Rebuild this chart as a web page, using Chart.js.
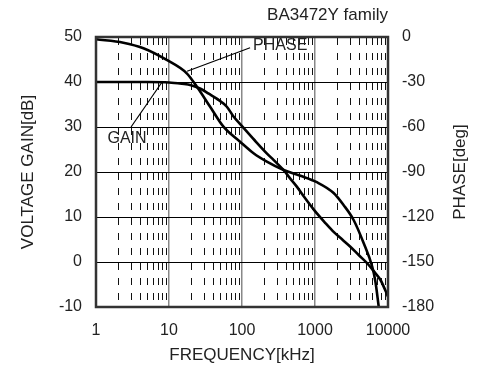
<!DOCTYPE html>
<html>
<head>
<meta charset="utf-8">
<script src="https://cdn.jsdelivr.net/npm/chart.js@4.4.0/dist/chart.umd.min.js"></script>
<style>
  html, body { margin: 0; padding: 0; background: #fff; }
  #wrap { width: 483px; height: 376px; }
</style>
</head>
<body>
<div id="wrap"><canvas id="bode" width="483" height="376"></canvas></div>
<script>
// values
const gainFreq = [1, 2, 5, 10, 15, 20, 27, 35, 45, 62, 76, 100, 150, 220, 270, 372, 450, 567, 700, 1000, 1400, 1800, 2400, 3050, 4000, 5200, 6500, 7900, 10000]
const gainDb = [40, 40, 40, 39.9, 39.6, 39.3, 38.5, 37.4, 36.3, 34.5, 32.4, 30.2, 27.0, 24.1, 22.7, 20.4, 18.7, 16.7, 14.6, 11.3, 8.6, 6.7, 4.9, 3.4, 1.5, -0.3, -2.2, -4.0, -7.7]

const phaseFreq = [1, 2.37, 4.46, 9.3, 17.5, 24, 36.6, 55.7, 94, 144, 219, 372, 630, 1060, 1800, 2460, 3380, 4650, 6070, 6720, 7470]
const phaseDeg = [-1.5, -3.8, -7.5, -15.3, -24.2, -33, -46.5, -59.8, -69.8, -77.5, -83.1, -88.7, -92.5, -96.8, -104, -112, -122, -137.5, -153, -163, -180]

const decadeTicks = [1, 10, 100, 1000, 10000]
const minorSteps = [2, 3, 4, 5, 6, 7, 8, 9]

// callouts: label text, label anchor (freq, dB), leader end (freq, dB)
const callouts = [
  { text: "PHASE", f: 142, db: 48, f0: 129, db0: 47.6, f1: 17.7, db1: 42.4, align: "left" },
  { text: "GAIN", f: 2.66, db: 27.4, f0: 3.02, db0: 30, f1: 8.04, db1: 40, align: "center" }
]

const FONT = "'Liberation Sans', Arial, sans-serif"

const pts = (xs, ys) => xs.map((x, i) => ({ x: x, y: ys[i] }))

const isDecade = v => Math.abs(Math.log10(v) - Math.round(Math.log10(v))) < 1e-6

const extras = {
  id: "extras",
  beforeDatasetsDraw(chart) {
    const { ctx, chartArea: a, scales } = chart
    ctx.save()
    ctx.strokeStyle = "#111"
    ctx.lineWidth = 1
    ctx.setLineDash([7, 8])
    ctx.lineDashOffset = -1
    for (let d = 1; d < 10000; d *= 10) {
      minorSteps.forEach(k => {
        const x = Math.round(scales.x.getPixelForValue(k * d)) + 0.5
        ctx.beginPath()
        ctx.moveTo(x, a.top)
        ctx.lineTo(x, a.bottom)
        ctx.stroke()
      })
    }
    ctx.restore()
  },
  afterDatasetsDraw(chart) {
    const { ctx, chartArea: a, scales } = chart
    ctx.save()
    // frame
    ctx.strokeStyle = "#333"
    ctx.lineWidth = 2.5
    ctx.strokeRect(a.left, a.top, a.right - a.left, a.bottom - a.top)
    // callouts
    ctx.lineWidth = 1.2
    ctx.strokeStyle = "#000"
    ctx.font = "16px " + FONT
    ctx.textBaseline = "middle"
    ctx.fillStyle = "#222"
    callouts.forEach(c => {
      ctx.beginPath()
      ctx.moveTo(scales.x.getPixelForValue(c.f0), scales.y.getPixelForValue(c.db0))
      ctx.lineTo(scales.x.getPixelForValue(c.f1), scales.y.getPixelForValue(c.db1))
      ctx.stroke()
      ctx.textAlign = c.align
      ctx.fillText(c.text, scales.x.getPixelForValue(c.f), scales.y.getPixelForValue(c.db))
    })
    // family label
    ctx.font = "17px " + FONT
    ctx.textAlign = "right"
    ctx.fillText("BA3472Y family", a.right, 15)
    // right axis title, reads bottom to top like the left one
    ctx.translate(460, (a.top + a.bottom) / 2)
    ctx.rotate(-Math.PI / 2)
    ctx.textAlign = "center"
    ctx.fillText("PHASE[deg]", 0, 0)
    ctx.restore()
  }
}

const bode = new Chart(document.getElementById("bode"), {
  type: "line",
  data: {
    datasets: [
      {
        label: "GAIN",
        data: pts(gainFreq, gainDb),
        yAxisID: "y",
        borderColor: "#000",
        borderWidth: 2.6,
        pointRadius: 0,
        cubicInterpolationMode: "monotone",
        fill: false
      },
      {
        label: "PHASE",
        data: pts(phaseFreq, phaseDeg),
        yAxisID: "y2",
        borderColor: "#000",
        borderWidth: 2.6,
        pointRadius: 0,
        cubicInterpolationMode: "monotone",
        fill: false
      }
    ]
  },
  options: {
    responsive: false,
    animation: false,
    layout: { padding: { top: 37, left: 0, right: 0, bottom: 0 } },
    plugins: {
      legend: { display: false },
      tooltip: { enabled: false }
    },
    scales: {
      x: {
        type: "logarithmic",
        min: 1,
        max: 10000,
        afterFit: s => { s.height = 69 },
        afterBuildTicks: s => { s.ticks = decadeTicks.map(v => ({ value: v })) },
        ticks: {
          autoSkip: false,
          maxRotation: 0,
          padding: 14,
          color: "#222",
          font: { family: FONT, size: 16 },
          callback: v => isDecade(v) ? String(v) : ""
        },
        grid: { color: "#888", lineWidth: 1.5, drawTicks: false },
        border: { display: false },
        title: {
          display: true,
          text: "FREQUENCY[kHz]",
          color: "#222",
          font: { family: FONT, size: 17 },
          padding: { top: 0, bottom: 10 }
        }
      },
      y: {
        position: "left",
        min: -10,
        max: 50,
        afterFit: s => { s.width = 96 },
        ticks: {
          stepSize: 10,
          padding: 14,
          color: "#222",
          font: { family: FONT, size: 16 }
        },
        grid: { color: "#000", lineWidth: 1, drawTicks: false },
        border: { display: false },
        title: {
          display: true,
          text: "VOLTAGE GAIN[dB]",
          color: "#222",
          font: { family: FONT, size: 17 },
          padding: { top: 18, bottom: 0 }
        }
      },
      y2: {
        position: "right",
        min: -180,
        max: 0,
        afterFit: s => { s.width = 95 },
        ticks: {
          stepSize: 30,
          padding: 14,
          color: "#222",
          font: { family: FONT, size: 16 }
        },
        grid: { drawOnChartArea: false, drawTicks: false },
        border: { display: false },
        title: { display: false }
      }
    }
  },
  plugins: [extras]
})
</script>
</body>
</html>
